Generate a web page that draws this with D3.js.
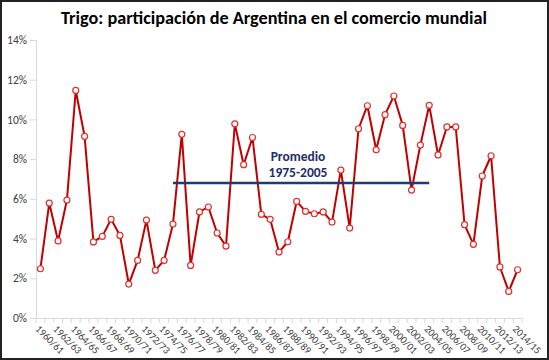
<!DOCTYPE html>
<html>
<head>
<meta charset="utf-8">
<script src="https://cdn.jsdelivr.net/npm/d3@7"></script>
<style>
  html, body { margin: 0; padding: 0; background: #fff; }
  svg { display: block; }
  text { font-family: Carlito, Lato, "Open Sans", sans-serif; }
</style>
</head>
<body>
<svg id="chart" width="549" height="360"></svg>
<script>
const categories = [
  "1960/61","1961/62","1962/63","1963/64","1964/65","1965/66","1966/67","1967/68","1968/69","1969/70",
  "1970/71","1971/72","1972/73","1973/74","1974/75","1975/76","1976/77","1977/78","1978/79","1979/80",
  "1980/81","1981/82","1982/83","1983/84","1984/85","1985/86","1986/87","1987/88","1988/89","1989/90",
  "1990/91","1991/92","1992/93","1993/94","1994/95","1995/96","1996/97","1997/98","1998/99","1999/00",
  "2000/01","2001/02","2002/03","2003/04","2004/05","2005/06","2006/07","2007/08","2008/09","2009/10",
  "2010/11","2011/12","2012/13","2013/14","2014/15"
];
const share = [
  2.48, 5.79, 3.88, 5.94, 11.46, 9.15, 3.83, 4.11, 4.97, 4.16,
  1.71, 2.90, 4.93, 2.40, 2.90, 4.73, 9.25, 2.65, 5.34, 5.59,
  4.28, 3.62, 9.78, 7.72, 9.09, 5.22, 4.97, 3.32, 3.84, 5.87,
  5.37, 5.25, 5.34, 4.83, 7.45, 4.53, 9.53, 10.69, 8.47, 10.24,
  11.18, 9.70, 6.44, 8.71, 10.71, 8.21, 9.62, 9.62, 4.70, 3.71,
  7.15, 8.17, 2.57, 1.34, 2.43
];
const yTicks = [0, 2, 4, 6, 8, 10, 12, 14];
const averageValue = 6.80;
const averageFrom = "1975/76";
const averageTo = "2004/05";
const averageLabel = ["Promedio", "1975-2005"];
const title = "Trigo: participación de Argentina en el comercio mundial";

const svg = d3.select("#chart");
const W = 549, H = 360;
const m = { left: 36, right: 27, top: 40, bottom: 42 };

// outer border
svg.append("rect").attr("x", 1).attr("y", 1).attr("width", W - 2).attr("height", H - 2)
  .attr("fill", "#fff").attr("stroke", "#222").attr("stroke-width", 2);

const x = d3.scaleBand().domain(categories).range([m.left, W - m.right]).padding(0);
const y = d3.scaleLinear().domain([0, 14]).range([H - m.bottom, m.top]);
const cx = d => x(d) + x.bandwidth() / 2;

// title
svg.append("text").attr("x", 274).attr("y", 24).attr("text-anchor", "middle")
  .attr("font-size", 18.2).attr("font-weight", "bold").attr("fill", "#000").text(title);

// y axis
const yAxis = svg.append("g").attr("transform", `translate(${m.left},0)`)
  .call(d3.axisLeft(y).tickValues(yTicks).tickFormat(d => d + "%").tickSize(6).tickPadding(3));
yAxis.select(".domain").attr("stroke", "#d9d9d9");
yAxis.selectAll(".tick line").attr("stroke", "#d9d9d9");
yAxis.selectAll(".tick text").attr("font-size", 11.5).attr("fill", "#404040")
  .style("font-family", "Carlito, Lato, sans-serif");

// x axis
const xAxis = svg.append("g").attr("transform", `translate(0,${H - m.bottom})`)
  .call(d3.axisBottom(x).tickSize(0).tickFormat(""));
xAxis.select(".domain").attr("stroke", "#d9d9d9");
xAxis.selectAll(".tick").remove();
const bounds = categories.map(c => x(c)).concat([x(categories[categories.length - 1]) + x.bandwidth()]);
xAxis.selectAll("line.bt").data(bounds).enter().append("line").attr("class", "bt")
  .attr("x1", d => d).attr("x2", d => d).attr("y1", 0).attr("y2", 5)
  .attr("stroke", "#d9d9d9");
xAxis.selectAll("text.lbl").data(categories.filter((c, i) => i % 2 === 0)).enter()
  .append("text").attr("class", "lbl")
  .attr("transform", d => `translate(${cx(d) - 3},${9}) rotate(45)`)
  .attr("text-anchor", "start").attr("dy", "0.35em")
  .attr("font-size", 10.3).attr("fill", "#404040").text(d => d);

// series line
const line = d3.line().x((d, i) => cx(categories[i])).y(d => y(d));
svg.append("path").datum(share).attr("d", line).attr("fill", "none")
  .attr("stroke", "#c00000").attr("stroke-width", 2).attr("stroke-linejoin", "round");

// average line
svg.append("line").attr("x1", cx(averageFrom)).attr("x2", cx(averageTo))
  .attr("y1", y(averageValue)).attr("y2", y(averageValue))
  .attr("stroke", "#1f3c6e").attr("stroke-width", 2.5);

// markers
svg.selectAll("circle.pt").data(share).enter().append("circle").attr("class", "pt")
  .attr("cx", (d, i) => cx(categories[i])).attr("cy", d => y(d)).attr("r", 3)
  .attr("fill", "#fff").attr("stroke", "#e0302a").attr("stroke-width", 1.2);

// average label
const lbl = svg.append("text").attr("x", 298).attr("text-anchor", "middle")
  .attr("font-size", 13.5).attr("font-weight", "bold").attr("fill", "#1f2f6b");
lbl.selectAll("tspan").data(averageLabel).enter().append("tspan")
  .attr("x", 298).attr("y", (d, i) => 161 + i * 16).text(d => d);
</script>
</body>
</html>
